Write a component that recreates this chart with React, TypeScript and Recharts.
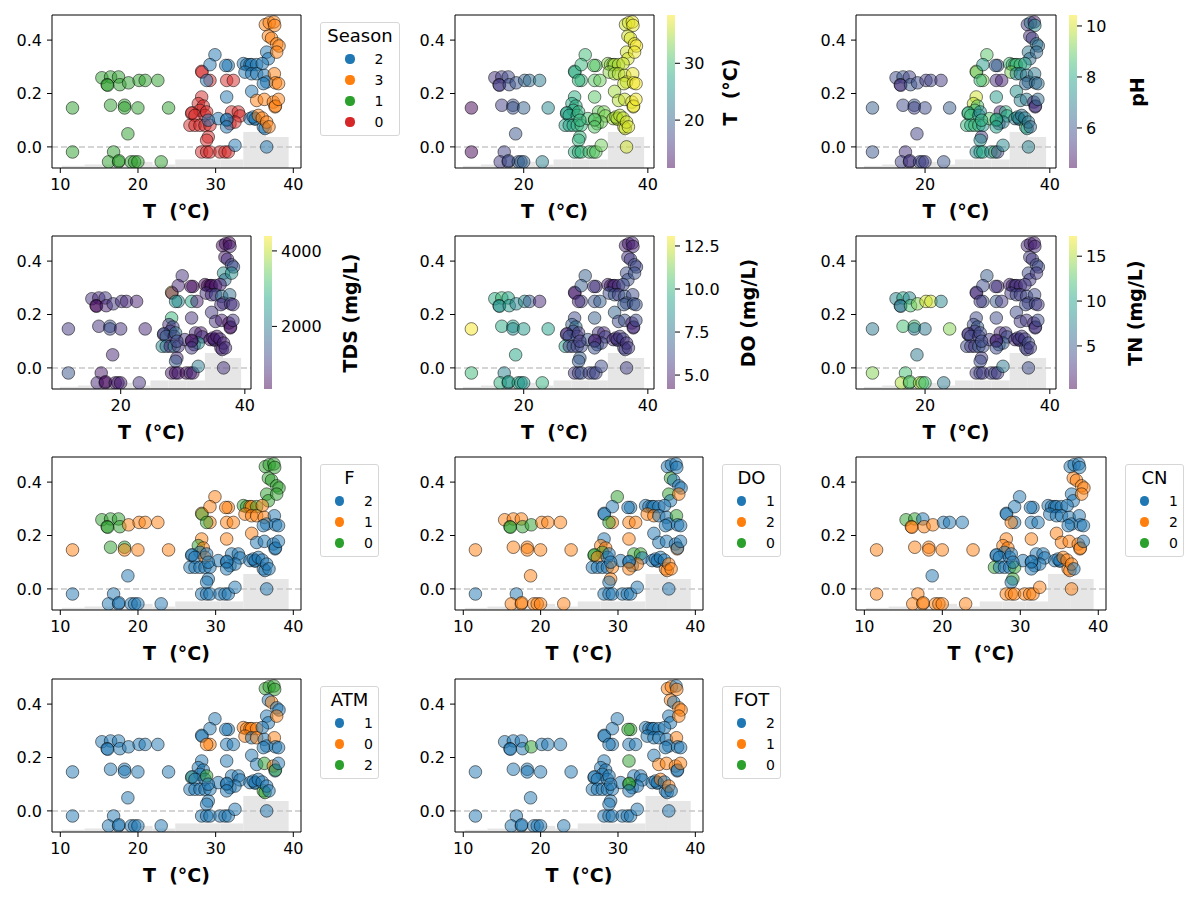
import React from "react";
import {
  ScatterChart,
  Scatter,
  ComposedChart,
  XAxis,
  YAxis,
  ReferenceArea,
  ReferenceLine,
} from "recharts";

const FONT = "'DejaVu Sans', Verdana, sans-serif";

// temperature (x) and SHAP value (y) for every sample, grouped by season
const TEMP = [
  // season 1
  15.35, 16.47, 17.5, 16.03, 16.1, 17.67, 18.79, 20.15, 20.93, 22.56,
  11.57, 16.47, 18.27, 18.27, 19.99, 23.94, 18.7, 11.57, 16.86, 16.21,
  17.5, 17.55, 19.12, 19.56, 19.99, 22.99,
  // season 0
  28.2, 28.25, 29.27, 31.42, 32.28, 28.2, 27.77, 28.41, 27.98, 26.91,
  26.95, 27.34, 28.63, 28.84, 26.69, 27.34, 27.98, 28.63, 29.27, 29.05,
  28.84, 28.2, 28.84, 29.27, 30.56, 31.2, 31.63, 32.06, 32.92, 33.14,
  31.85, 32.49,
  // season 2
  36.57, 36.79, 29.91, 29.27, 31.63, 31.3, 33.57, 34.0, 34.42, 34.64,
  35.28, 36.01, 33.78, 34.64, 35.28, 36.27, 36.57, 36.14, 28.84, 31.42,
  34.64, 30.34, 31.42, 31.45, 31.42, 29.05, 34.42, 35.07, 35.1, 36.14,
  36.36, 32.49, 36.57, 34.85,
  // season 3
  36.4, 36.9, 37.5, 37.6, 36.79, 37.2, 37.86, 38.16, 37.86, 37.56,
  37.7, 38.1, 35.28, 36.27, 37.43, 37.65, 37.7, 38.08, 35.5, 36.0,
  36.57, 36.87,
];

const SHAP = [
  0.259, 0.262, 0.262, 0.233, 0.231, 0.233, 0.24, 0.249, 0.249, 0.249,
  0.146, 0.156, 0.156, 0.146, 0.146, 0.146, 0.049, -0.019, -0.019, -0.056,
  -0.056, -0.052, -0.056, -0.056, -0.056, -0.056,
  0.283, 0.28, 0.249, 0.249, 0.249, 0.187, 0.162, 0.153, 0.137, 0.125,
  0.128, 0.118, 0.118, 0.131, 0.081, 0.081, 0.081, 0.081, 0.081, 0.037,
  0.025, -0.019, -0.019, -0.019, -0.019, -0.019, -0.019, 0.131, 0.131, 0.116,
  0.087, 0.093,
  0.355, 0.33, 0.345, 0.308, 0.305, 0.305, 0.312, 0.308, 0.308, 0.308,
  0.308, 0.312, 0.28, 0.274, 0.274, 0.268, 0.243, 0.237, 0.249, 0.187,
  0.208, 0.106, 0.1, 0.103, 0.075, 0.1, 0.106, 0.106, 0.104, 0.075,
  0.069, 0.006, 0.0, 0.112,
  0.458, 0.465, 0.468, 0.455, 0.415, 0.407, 0.386, 0.378, 0.355, 0.274,
  0.24, 0.237, 0.174, 0.178, 0.168, 0.15, 0.153, 0.178, 0.118, 0.108,
  0.093, 0.075,
];

const SEASON = [
  1, 1, 1, 1, 1, 1, 1, 1, 1, 1, 1, 1, 1, 1, 1, 1, 1, 1, 1, 1, 1, 1, 1, 1, 1, 1,
  0, 0, 0, 0, 0, 0, 0, 0, 0, 0, 0, 0, 0, 0, 0, 0, 0, 0, 0, 0, 0, 0, 0, 0, 0, 0,
  0, 0, 0, 0, 0, 0,
  2, 2, 2, 2, 2, 2, 2, 2, 2, 2, 2, 2, 2, 2, 2, 2, 2, 2, 2, 2, 2, 2, 2, 2, 2, 2,
  2, 2, 2, 2, 2, 2, 2, 2,
  3, 3, 3, 3, 3, 3, 3, 3, 3, 3, 3, 3, 3, 3, 3, 3, 3, 3, 3, 3, 3, 3,
];

const PH = [
  5.8, 6.0, 5.6, 5.2, 5.4, 6.0, 5.8, 5.5, 5.6, 5.4, 6.2, 5.8, 6.0, 5.6, 5.8,
  6.1, 5.6, 6.0, 5.3, 5.6, 5.2, 5.4, 5.8, 5.6, 5.6, 6.0,
  10.2, 8.5, 9.2, 5.2, 5.0, 10.0, 9.8, 8.8, 8.5, 8.6, 8.2, 8.4, 7.5, 7.2, 8.4,
  8.0, 8.6, 8.2, 7.6, 5.4, 7.4, 7.2, 7.8, 8.0, 7.2, 8.6, 5.6, 5.0, 8.2, 8.0,
  5.2, 7.0,
  6.8, 6.6, 8.8, 7.6, 6.0, 6.2, 8.6, 8.4, 8.8, 8.2, 8.6, 7.8, 9.2, 7.2, 7.0,
  6.8, 6.6, 6.4, 8.4, 7.6, 7.4, 8.8, 8.4, 8.0, 7.8, 8.2, 6.8, 7.0, 6.6, 8.4,
  7.6, 7.2, 7.0, 7.4,
  5.4, 6.8, 5.0, 7.2, 5.2, 5.6, 6.8, 6.6, 6.4, 6.8, 6.4, 6.6, 7.0, 6.8, 5.0,
  5.2, 5.4, 6.6, 6.6, 7.0, 6.8, 6.4,
];

const TDS = [
  900, 800, 1000, 500, 400, 700, 1000, 900, 800, 700, 1000, 900, 1400, 1200,
  900, 800, 800, 1400, 600, 800, 500, 400, 700, 600, 700, 900,
  4300, 400, 2200, 2800, 700, 3000, 900, 1200, 1000, 500, 1400, 1600, 700,
  1800, 2200, 1800, 700, 2200, 900, 800, 1500, 600, 500, 700, 300, 900, 600,
  800, 600, 900, 1000, 2400,
  2300, 1800, 900, 800, 400, 500, 400, 300, 500, 400, 600, 700, 900, 800,
  1200, 1800, 1000, 900, 2300, 900, 1000, 900, 500, 600, 1000, 1200, 500, 400,
  900, 600, 800, 2000, 900, 700,
  400, 500, 300, 700, 600, 900, 1200, 1400, 2300, 1800, 1000, 900, 900, 700,
  400, 500, 600, 1000, 600, 800, 700, 900,
];

const DO_MG = [
  9.6, 10.2, 9.4, 8.6, 8.8, 9.0, 8.2, 8.4, 6.6, 5.2, 13.0, 9.6, 9.2, 8.4, 9.0,
  9.2, 9.4, 10.2, 8.0, 9.8, 8.6, 9.2, 9.6, 9.0, 8.8, 9.8,
  5.2, 4.8, 6.0, 6.5, 6.8, 6.2, 6.8, 7.4, 6.0, 5.0, 5.4, 6.6, 6.0, 5.6, 9.2,
  5.6, 6.4, 6.0, 6.2, 6.8, 6.6, 5.6, 6.0, 6.4, 5.8, 6.2, 6.0, 5.6, 5.2, 6.0,
  6.4, 6.0,
  6.2, 6.4, 6.8, 6.8, 5.4, 5.6, 5.0, 4.8, 5.2, 4.9, 5.4, 6.2, 6.2, 6.6, 5.8,
  6.6, 6.2, 6.6, 5.2, 6.8, 7.0, 6.6, 5.0, 5.2, 6.4, 5.8, 5.2, 5.0, 5.8, 5.6,
  5.8, 6.2, 5.8, 5.4,
  5.0, 4.8, 5.2, 4.9, 5.4, 5.8, 6.2, 6.0, 6.4, 6.2, 6.6, 6.4, 6.2, 6.4, 4.8,
  5.0, 5.4, 6.2, 5.6, 5.8, 5.4, 5.6,
];

const TN = [
  8, 10, 8, 7, 7, 12, 14, 16, 16, 8, 7, 12, 12, 7, 7, 14, 7, 14, 12, 15, 12,
  13, 15, 13, 12, 7,
  3, 2, 4, 5, 3, 4, 4, 5, 3, 2, 3, 4, 3, 4, 4, 3, 3, 5, 4, 3, 4, 3, 4, 3, 3,
  4, 3, 2, 3, 4, 6, 5,
  4, 3, 5, 4, 2, 3, 2, 2, 2, 3, 2, 3, 3, 4, 3, 4, 3, 4, 3, 4, 4, 3, 2, 2, 4,
  4, 2, 2, 3, 4, 3, 7, 4, 3,
  2, 2, 1.5, 2, 3, 3, 4, 4, 3, 4, 4, 3, 3, 3, 2, 2, 3, 4, 3, 3, 4, 3,
];

const F_CAT = [
  0, 0, 0, 0, 0, 0, 1, 1, 1, 1, 1, 0, 0, 1, 1, 1, 2, 2, 2, 2, 2, 2, 2, 2, 2, 2,
  1, 0, 1, 1, 1, 1, 0, 1, 2, 2, 2, 2, 1, 2, 2, 2, 2, 2, 2, 2, 2, 2, 2, 2, 2, 2,
  2, 2, 2, 2, 2, 2,
  0, 0, 1, 1, 1, 1, 0, 0, 1, 1, 0, 1, 1, 1, 1, 1, 2, 2, 0, 1, 1, 2, 2, 2, 2, 2,
  2, 2, 2, 2, 2, 2, 2, 2,
  0, 0, 0, 0, 0, 0, 0, 0, 0, 2, 2, 2, 2, 2, 2, 2, 2, 2, 2, 2, 2, 2,
];

const DO_CAT = [
  2, 2, 2, 0, 0, 0, 0, 2, 2, 2, 2, 2, 2, 2, 2, 2, 2, 1, 1, 2, 2, 2, 2, 2, 2, 2,
  1, 1, 2, 2, 2, 1, 2, 2, 0, 0, 0, 2, 1, 1, 1, 1, 1, 1, 2, 2, 1, 1, 1, 1, 1, 1,
  1, 0, 0, 1, 1, 2,
  0, 1, 0, 1, 1, 1, 1, 1, 1, 1, 1, 1, 2, 2, 1, 1, 1, 1, 0, 2, 1, 1, 1, 1, 2, 1,
  1, 1, 1, 2, 2, 1, 1, 1,
  1, 1, 1, 1, 0, 1, 1, 1, 2, 0, 1, 1, 1, 1, 1, 2, 1, 1, 1, 1, 2, 2,
];

const CN_CAT = [
  0, 0, 1, 2, 2, 2, 2, 1, 1, 1, 2, 2, 2, 2, 2, 2, 1, 2, 2, 2, 2, 2, 2, 2, 2, 2,
  1, 1, 1, 1, 1, 2, 2, 2, 1, 1, 1, 1, 1, 1, 0, 1, 1, 1, 0, 0, 1, 2, 2, 2, 2, 2,
  2, 1, 1, 1, 1, 1,
  1, 1, 1, 1, 1, 1, 1, 1, 1, 1, 1, 1, 1, 1, 1, 1, 1, 1, 2, 2, 2, 1, 1, 1, 1, 1,
  1, 1, 1, 2, 2, 2, 2, 1,
  1, 1, 1, 1, 2, 2, 2, 2, 2, 1, 1, 1, 2, 2, 2, 2, 2, 1, 2, 2, 2, 1,
];

const ATM_CAT = [
  1, 1, 1, 1, 1, 1, 1, 1, 1, 1, 1, 1, 1, 1, 1, 1, 1, 1, 1, 1, 1, 1, 1, 1, 1, 1,
  1, 1, 0, 1, 1, 1, 1, 1, 1, 2, 1, 1, 1, 2, 1, 1, 1, 1, 1, 1, 1, 1, 1, 1, 1, 1,
  1, 1, 1, 1, 1, 1,
  1, 1, 1, 1, 1, 1, 0, 0, 0, 0, 0, 1, 0, 1, 0, 1, 1, 1, 0, 1, 1, 1, 1, 1, 1, 1,
  1, 1, 1, 2, 2, 1, 1, 1,
  2, 2, 2, 2, 1, 0, 1, 1, 0, 0, 1, 1, 1, 2, 0, 1, 2, 1, 1, 1, 1, 1,
];

const FOT_CAT = [
  2, 2, 2, 2, 2, 2, 0, 2, 2, 2, 2, 2, 2, 2, 2, 2, 2, 2, 2, 2, 2, 2, 2, 2, 2, 2,
  2, 2, 2, 2, 2, 2, 2, 2, 2, 2, 2, 2, 2, 2, 2, 2, 2, 2, 2, 2, 2, 2, 2, 2, 2, 2,
  2, 2, 2, 2, 2, 2,
  2, 2, 2, 2, 0, 0, 2, 2, 2, 2, 2, 2, 2, 2, 2, 2, 2, 2, 2, 0, 2, 2, 0, 0, 2, 2,
  2, 2, 2, 2, 2, 2, 2, 2,
  1, 1, 2, 1, 1, 2, 1, 1, 1, 1, 2, 2, 1, 1, 1, 2, 2, 1, 1, 2, 1, 2,
];

// background histogram of T
const BIN_EDGES = [10.2, 13.12, 16.04, 18.96, 21.88, 24.8, 27.72, 30.64, 33.56, 36.48, 39.4];
const BIN_TOPS = [-0.071, -0.066, -0.066, -0.056, -0.066, -0.047, -0.047, -0.047, 0.056, 0.037];

const X_MIN = 8.93;
const X_MAX = 40.99;
const Y_MIN = -0.079;
const Y_MAX = 0.494;
const AX_H = 153;
const YW = 52;
const XH = 60;

const TAB10 = ["#1f77b4", "#ff7f0e", "#2ca02c", "#d62728"];
const VIRIDIS = [
  "#440154", "#482475", "#414487", "#355f8d", "#2a788e", "#21918c",
  "#22a884", "#44bf70", "#7ad151", "#bddf26", "#fde725",
];

function hex(c: string) {
  return [1, 3, 5].map((i) => parseInt(c.slice(i, i + 2), 16));
}

function viridis(v: number, lo: number, hi: number) {
  const t = Math.min(1, Math.max(0, (v - lo) / (hi - lo))) * 10;
  const i = Math.min(9, Math.floor(t));
  const f = t - i;
  const a = hex(VIRIDIS[i]);
  const b = hex(VIRIDIS[i + 1]);
  const m = a.map((x, k) => Math.round(x + (b[k] - x) * f));
  return `rgb(${m[0]},${m[1]},${m[2]})`;
}

const dot = (p: any) => (
  <circle
    cx={p.cx}
    cy={p.cy}
    r={6.3}
    fill={p.payload.c}
    fillOpacity={0.5}
    stroke="#000"
    strokeOpacity={0.5}
    strokeWidth={1}
  />
);

const tickStyle = { fill: "#000", fontSize: 16, fontFamily: FONT };

function ScatterPanel({ left, top, w, fills }: { left: number; top: number; w: number; fills: string[] }) {
  const data = TEMP.map((x, i) => ({ x, y: SHAP[i], c: fills[i] }));
  const xTicks = w < 220 ? [20, 40] : [10, 20, 30, 40];
  return (
    <div style={{ position: "absolute", left: left - YW, top: top - 5 }}>
      <ScatterChart
        width={YW + w + 5}
        height={5 + AX_H + XH}
        margin={{ top: 4, right: 4, bottom: 0, left: 0 }}
      >
        <XAxis
          type="number"
          dataKey="x"
          domain={[X_MIN, X_MAX]}
          ticks={xTicks}
          interval={0}
          allowDataOverflow
          height={XH}
          tickSize={5}
          tickMargin={6}
          stroke="#000"
          tick={tickStyle}
          label={{
            value: "T\u00a0\u00a0(°C)",
            position: "insideBottom",
            offset: 10,
            style: { fill: "#000", fontSize: 19, fontWeight: "bold", fontFamily: FONT },
          }}
        />
        <YAxis
          type="number"
          dataKey="y"
          domain={[Y_MIN, Y_MAX]}
          ticks={[0, 0.2, 0.4]}
          tickFormatter={(v: number) => v.toFixed(1)}
          interval={0}
          allowDataOverflow
          width={YW}
          tickSize={5}
          tickMargin={5}
          stroke="#000"
          tick={tickStyle}
        />
        <XAxis xAxisId="top" orientation="top" type="number" domain={[X_MIN, X_MAX]} height={1} tick={false} tickLine={false} stroke="#000" allowDataOverflow />
        <YAxis yAxisId="right" orientation="right" type="number" domain={[Y_MIN, Y_MAX]} width={1} tick={false} tickLine={false} stroke="#000" allowDataOverflow />
        {BIN_TOPS.map((h, i) => (
          <ReferenceArea
            key={i}
            x1={BIN_EDGES[i]}
            x2={BIN_EDGES[i + 1]}
            y1={Y_MIN}
            y2={h}
            fill="#e6e6e6"
            fillOpacity={1}
            stroke="none"
          />
        ))}
        <ReferenceLine y={0} stroke="#c8c8c8" strokeWidth={1.5} strokeDasharray="6 3" />
        <Scatter data={data} shape={dot} isAnimationActive={false} />
      </ScatterChart>
    </div>
  );
}

function CatLegend({ left, top, title, order }: { left: number; top: number; title: string; order: number[] }) {
  const bw = title.length > 4 ? 80 : 59;
  const cx = bw / 2;
  return (
    <div
      style={{
        position: "absolute",
        left,
        top,
        width: bw,
        height: 24 + order.length * 21 + 6,
        border: "1px solid #d6d6d6",
        borderRadius: 3,
        background: "#fff",
        fontFamily: FONT,
        boxSizing: "border-box",
      }}
    >
      <div style={{ position: "absolute", left: 0, width: bw - 2, top: 2, textAlign: "center", fontSize: 18 }}>{title}</div>
      {order.map((v, i) => (
        <React.Fragment key={v}>
          <div
            style={{
              position: "absolute",
              left: cx - 11 - 4.6,
              top: 37 + i * 21 - 4.6 - 1,
              width: 9.2,
              height: 9.2,
              borderRadius: "50%",
              background: TAB10[i],
            }}
          />
          <div style={{ position: "absolute", left: cx + 10, width: 16, top: 28 + i * 21, textAlign: "center", fontSize: 14 }}>
            {v}
          </div>
        </React.Fragment>
      ))}
    </div>
  );
}

function Colorbar({ id, left, top, range, ticks, fmt, label, labelX }: any) {
  const [lo, hi] = range;
  const data = [{ x: 0, v: lo }, { x: 1, v: hi }];
  return (
    <>
      <div style={{ position: "absolute", left, top: top - 5 }}>
        <ComposedChart width={8 + 60} height={AX_H + 10} data={data} margin={{ top: 5, right: 0, bottom: 5, left: 0 }}>
          <defs>
            <linearGradient id={id} x1="0" y1="1" x2="0" y2="0">
              {VIRIDIS.map((c, i) => (
                <stop key={i} offset={i / 10} stopColor={c} stopOpacity={0.5} />
              ))}
            </linearGradient>
          </defs>
          <XAxis type="number" dataKey="x" domain={[0, 1]} hide />
          <YAxis
            type="number"
            dataKey="v"
            orientation="right"
            domain={[lo, hi]}
            ticks={ticks}
            interval={0}
            tickFormatter={fmt}
            allowDataOverflow
            width={60}
            axisLine={false}
            tickSize={5}
            tickMargin={4}
            tickLine={{ stroke: "#000" }}
            tick={tickStyle}
          />
          <ReferenceArea x1={0} x2={1} y1={lo} y2={hi} fill={`url(#${id})`} fillOpacity={1} stroke="none" />
        </ComposedChart>
      </div>
      <div
        style={{
          position: "absolute",
          left: labelX,
          top: top + AX_H / 2,
          transform: "translate(-50%, -50%) rotate(-90deg)",
          whiteSpace: "pre",
          fontFamily: FONT,
          fontWeight: "bold",
          fontSize: 19,
        }}
      >
        {label}
      </div>
    </>
  );
}

const catFills = (vals: number[], order: number[]) => vals.map((v) => TAB10[order.indexOf(v)]);
const contFills = (vals: number[], range: number[]) => vals.map((v) => viridis(v, range[0], range[1]));

const CAT_PANELS = [
  { left: 52, top: 15, w: 249, vals: SEASON, order: [2, 3, 1, 0], title: "Season" },
  { left: 52, top: 457, w: 249, vals: F_CAT, order: [2, 1, 0], title: "F" },
  { left: 455, top: 457, w: 248, vals: DO_CAT, order: [1, 2, 0], title: "DO" },
  { left: 856, top: 457, w: 250, vals: CN_CAT, order: [1, 2, 0], title: "CN" },
  { left: 52, top: 679, w: 249, vals: ATM_CAT, order: [1, 0, 2], title: "ATM" },
  { left: 455, top: 679, w: 248, vals: FOT_CAT, order: [2, 1, 0], title: "FOT" },
];

const CONT_PANELS = [
  { id: "cbT", left: 455, top: 15, w: 199, vals: TEMP, range: [11.57, 38.5], ticks: [20, 30], label: "T\u00a0\u00a0(°C)", labelX: 730 },
  { id: "cbPH", left: 856, top: 15, w: 200, vals: PH, range: [4.43, 10.43], ticks: [6, 8, 10], label: "pH", labelX: 1137 },
  { id: "cbTDS", left: 52, top: 236, w: 199, vals: TDS, range: [342, 4395], ticks: [2000, 4000], label: "TDS (mg/L)", labelX: 350 },
  { id: "cbDO", left: 455, top: 236, w: 199, vals: DO_MG, range: [4.19, 13.08], ticks: [5, 7.5, 10, 12.5], label: "DO (mg/L)", labelX: 748, fmt: (v: number) => v.toFixed(1) },
  { id: "cbTN", left: 856, top: 236, w: 200, vals: TN, range: [0.2, 17.25], ticks: [5, 10, 15], label: "TN (mg/L)", labelX: 1135 },
];

export default function App() {
  return (
    <div style={{ position: "absolute", left: 0, top: 0, width: 1200, height: 900, background: "#fff", fontFamily: FONT }}>
      {CAT_PANELS.map((p) => (
        <React.Fragment key={p.title}>
          <ScatterPanel left={p.left} top={p.top} w={p.w} fills={catFills(p.vals, p.order)} />
          <CatLegend left={p.left + p.w + 19} top={p.top + 7} title={p.title} order={p.order} />
        </React.Fragment>
      ))}
      {CONT_PANELS.map((p) => (
        <React.Fragment key={p.id}>
          <ScatterPanel left={p.left} top={p.top} w={p.w} fills={contFills(p.vals, p.range)} />
          <Colorbar
            id={p.id}
            left={p.left + p.w + 13}
            top={p.top}
            range={p.range}
            ticks={p.ticks}
            fmt={p.fmt}
            label={p.label}
            labelX={p.labelX}
          />
        </React.Fragment>
      ))}
    </div>
  );
}
